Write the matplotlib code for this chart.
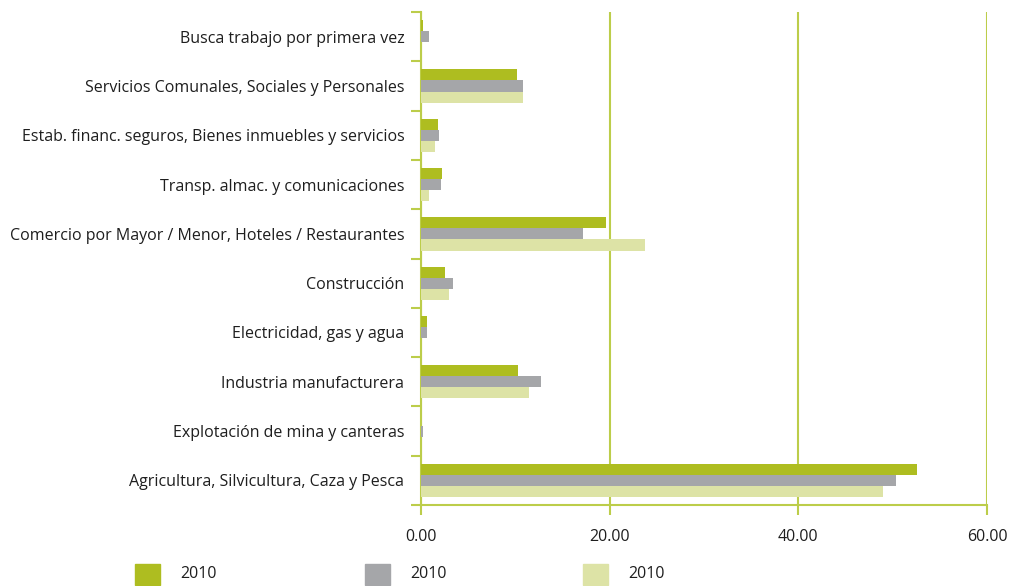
import numpy as np
import matplotlib.pyplot as plt
from matplotlib.patches import Rectangle

plt.rcParams['font.family'] = ['Open Sans', 'DejaVu Sans']

categorias = [
    "Busca trabajo por primera vez",
    "Servicios Comunales, Sociales y Personales",
    "Estab. financ. seguros, Bienes inmuebles y servicios",
    "Transp. almac. y comunicaciones",
    "Comercio por Mayor / Menor, Hoteles / Restaurantes",
    "Construcción",
    "Electricidad, gas y agua",
    "Industria manufacturera",
    "Explotación de mina y canteras",
    "Agricultura, Silvicultura, Caza y Pesca",
]
serie_a = [0.2, 10.2, 1.8, 2.2, 19.6, 2.5, 0.6, 10.3, 0.0, 52.6]
serie_b = [0.9, 10.8, 1.9, 2.1, 17.2, 3.4, 0.6, 12.7, 0.2, 50.4]
serie_c = [0.0, 10.8, 1.5, 0.8, 23.8, 3.0, 0.0, 11.5, 0.0, 49.0]
leyenda = ["2010", "2010", "2010"]
xticks = [0, 20, 40, 60]

colores = ["#aebd20", "#a5a6a9", "#dde3a6"]
verde = "#bccd4a"
texto = "#1e1e1e"

fig = plt.figure(figsize=(10.1, 5.86), dpi=100)
ax = fig.add_axes([0.4168, 0.1382, 0.5604, 0.8413])

y = np.arange(len(categorias))
h = 0.225
for k, vals in enumerate([serie_a, serie_b, serie_c]):
    ax.barh(y + (k - 1) * h, vals, height=h, color=colores[k], zorder=3)

ax.set_xlim(0, 60)
ax.set_ylim(len(categorias) - 0.5, -0.5)

ax.set_xticks(xticks)
ax.set_xticklabels([f"{v:.2f}" for v in xticks], fontsize=11.5, color=texto)
ax.tick_params(axis='x', length=7, width=1.5, color=verde, pad=10)

ax.set_yticks(y)
ax.set_yticklabels(categorias, fontsize=11.5, color=texto)
ax.set_yticks(np.arange(-0.5, len(categorias)), minor=True)
ax.tick_params(axis='y', which='major', length=0, pad=12)
ax.tick_params(axis='y', which='minor', length=7, width=1.5, color=verde)

ax.grid(axis='x', color=verde, linewidth=1.5, zorder=0)
for s in ['top', 'right']:
    ax.spines[s].set_visible(False)
for s in ['left', 'bottom']:
    ax.spines[s].set_color(verde)
    ax.spines[s].set_linewidth(1.5)

# leyenda
xs = [135, 365, 583]
for k, x0 in enumerate(xs):
    fig.patches.append(Rectangle((x0 / 1010, 1 - 585 / 586), 25 / 1010, 21 / 586,
                                 transform=fig.transFigure, color=colores[k]))
    fig.text((x0 + 45) / 1010, 1 - 574 / 586, leyenda[k], fontsize=11.5,
             color=texto, va='center', ha='left')

fig.savefig("out.png", dpi=100)
